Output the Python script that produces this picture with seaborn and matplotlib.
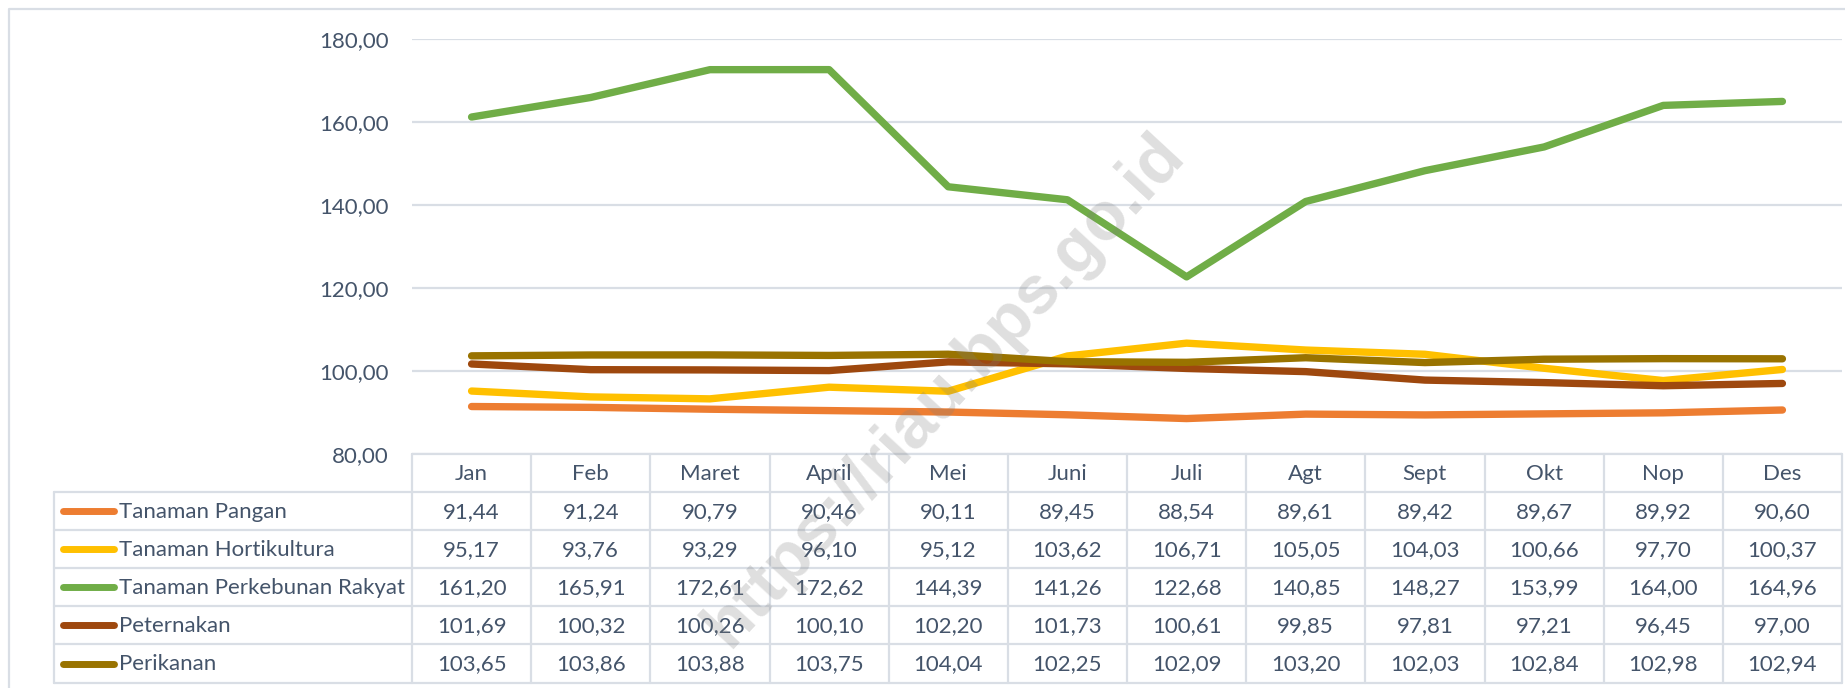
"""
Indeks harga per subsektor pertanian (Riau), Jan-Des.
Excel-style line chart with a data table underneath, redrawn in seaborn.
"""
import matplotlib
matplotlib.use("Agg")
import matplotlib.pyplot as plt
import pandas as pd
import seaborn as sns
from matplotlib.ticker import FuncFormatter

months = ["Jan", "Feb", "Maret", "April", "Mei", "Juni", "Juli", "Agt", "Sept", "Okt", "Nop", "Des"]
series_names = ["Tanaman Pangan", "Tanaman Hortikultura", "Tanaman Perkebunan Rakyat",
                "Peternakan", "Perikanan"]
tanaman_pangan = [91.44, 91.24, 90.79, 90.46, 90.11, 89.45, 88.54, 89.61, 89.42, 89.67, 89.92, 90.60]
tanaman_hortikultura = [95.17, 93.76, 93.29, 96.10, 95.12, 103.62, 106.71, 105.05, 104.03, 100.66, 97.70, 100.37]
tanaman_perkebunan = [161.20, 165.91, 172.61, 172.62, 144.39, 141.26, 122.68, 140.85, 148.27, 153.99, 164.00, 164.96]
peternakan = [101.69, 100.32, 100.26, 100.10, 102.20, 101.73, 100.61, 99.85, 97.81, 97.21, 96.45, 97.00]
perikanan = [103.65, 103.86, 103.88, 103.75, 104.04, 102.25, 102.09, 103.20, 102.03, 102.84, 102.98, 102.94]
colors = ["#ED7D31", "#FFC000", "#70AD47", "#9E480E", "#997300"]
y_ticks = [80, 100, 120, 140, 160, 180]

all_values = [tanaman_pangan, tanaman_hortikultura, tanaman_perkebunan, peternakan, perikanan]

# long table for seaborn
rows = []
for name, vals in zip(series_names, all_values):
    for i, v in enumerate(vals):
        rows.append({"series": name, "idx": i, "value": v})
df = pd.DataFrame(rows)


def fmt_id(v):
    # Indonesian decimal comma
    return f"{v:.2f}".replace(".", ",")


sns.set_style("white")
plt.rcParams["font.family"] = ["Lato", "DejaVu Sans"]
TEXT = "#44546A"
GRID = "#D9DEE5"
FS = 16

W, H = 1845, 688
fig = plt.figure(figsize=(W / 100, H / 100), dpi=100)

# layout in pixels
x0, x1 = 412, 1842          # plot / table columns
y_top, y_bot = 39, 454      # 180 and 80 gridlines
tab_left = 54
row_edges = [454, 492, 530, 568, 606, 644, 683]

ax = fig.add_axes([x0 / W, (H - y_bot) / H, (x1 - x0) / W, (y_bot - y_top) / H])
sns.lineplot(data=df, x="idx", y="value", hue="series", hue_order=series_names,
             palette=colors, linewidth=5.3, legend=False, ax=ax, zorder=3)
for line in ax.get_lines():
    line.set_solid_capstyle("round")
    line.set_solid_joinstyle("round")

ax.set_xlim(-0.5, 11.5)
ax.set_ylim(80, 180)
ax.set_yticks(y_ticks)
ax.yaxis.set_major_formatter(FuncFormatter(lambda v, _: fmt_id(v)))
ax.set_xticks([])
ax.tick_params(axis="y", length=0, pad=17, labelsize=FS, labelcolor=TEXT)
ax.grid(axis="y", color=GRID, linewidth=1.6, zorder=0)
ax.set_axisbelow(True)
for s in ax.spines.values():
    s.set_visible(False)
ax.set_xlabel("")
ax.set_ylabel("")
ax.patch.set_visible(False)

# overlay axes in pixel coordinates for the data table, frame and watermark
ov = fig.add_axes([0, 0, 1, 1])
ov.set_xlim(0, W)
ov.set_ylim(H, 0)
ov.axis("off")
ov.set_zorder(5)
ov.patch.set_visible(False)

# chart outer frame (clipped at right/bottom like the reference)
ov.plot([9, 9, W + 5], [H + 5, 9, 9], color=GRID, linewidth=1.6)

cw = (x1 - x0) / 12
lw_tab = 1.6
# horizontal table lines
ov.plot([x0, x1], [row_edges[0]] * 2, color=GRID, linewidth=lw_tab)
for y in row_edges[1:]:
    ov.plot([tab_left, x1], [y, y], color=GRID, linewidth=lw_tab)
# vertical table lines
for i in range(13):
    xv = x0 + i * cw
    ov.plot([xv, xv], [row_edges[0], row_edges[-1]], color=GRID, linewidth=lw_tab)
ov.plot([tab_left, tab_left], [row_edges[1], row_edges[-1]], color=GRID, linewidth=lw_tab)

# header
for i, m in enumerate(months):
    ov.text(x0 + (i + 0.5) * cw, (row_edges[0] + row_edges[1]) / 2 + 1, m,
            ha="center", va="center", fontsize=FS, color=TEXT)

# rows
for r, (name, vals, c) in enumerate(zip(series_names, all_values, colors)):
    yc = (row_edges[r + 1] + row_edges[r + 2]) / 2
    ov.plot([63, 114], [yc, yc], color=c, linewidth=5, solid_capstyle="round")
    ov.text(119, yc + 1, name, ha="left", va="center", fontsize=FS, color=TEXT)
    for i, v in enumerate(vals):
        ov.text(x0 + (i + 0.5) * cw, yc + 1, fmt_id(v),
                ha="center", va="center", fontsize=FS, color=TEXT)

# watermark
ov.text(944, 390, "https://riau.bps.go.id", rotation=47.2, rotation_mode="anchor",
        ha="center", va="center", fontsize=49, fontweight="bold",
        family=["Liberation Sans", "DejaVu Sans"], color="#7F7F7F", alpha=0.25, zorder=10)

fig.savefig("out.png", dpi=100)
